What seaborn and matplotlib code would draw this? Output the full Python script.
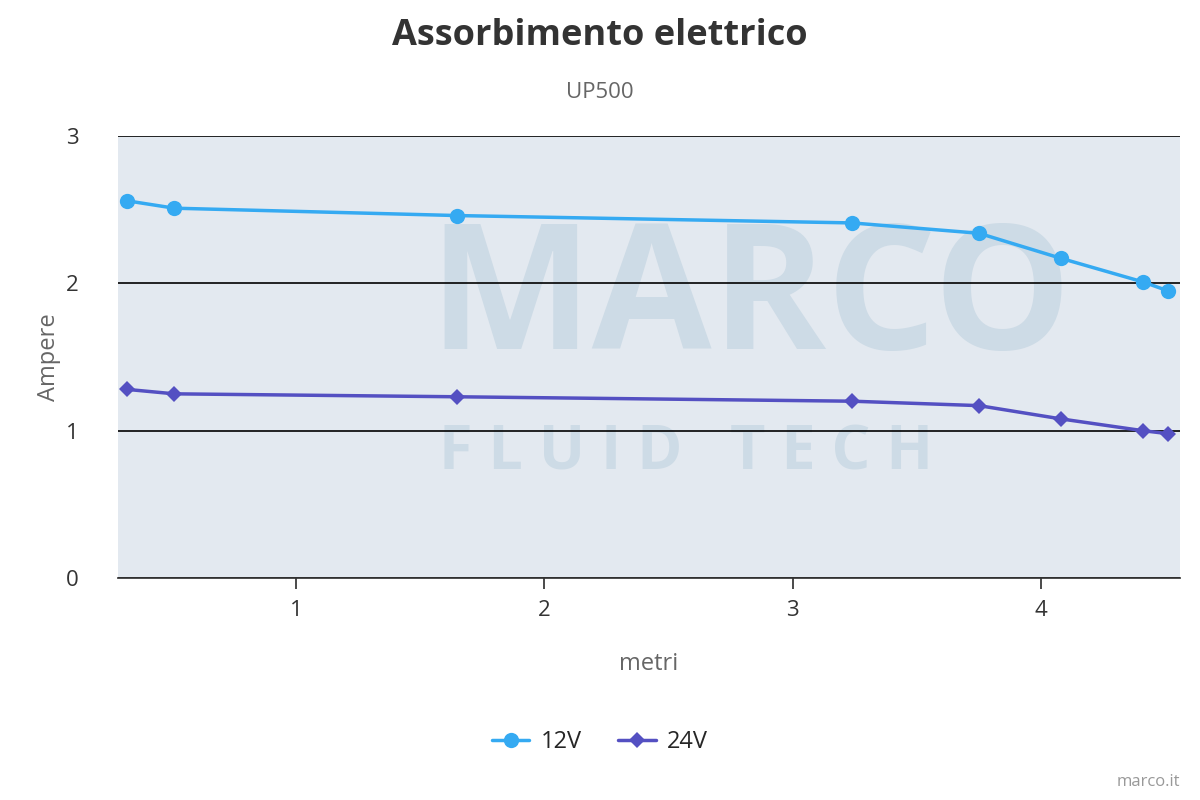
import matplotlib
matplotlib.use("Agg")
import matplotlib.pyplot as plt
import seaborn as sns
import pandas as pd

metri = [0.32, 0.51, 1.65, 3.24, 3.75, 4.08, 4.41, 4.51]
amp_12v = [2.56, 2.51, 2.46, 2.41, 2.34, 2.17, 2.01, 1.95]
amp_24v = [1.28, 1.25, 1.23, 1.20, 1.17, 1.08, 1.00, 0.98]

df = pd.concat([
    pd.DataFrame({"metri": metri, "Ampere": amp_12v, "serie": "12V"}),
    pd.DataFrame({"metri": metri, "Ampere": amp_24v, "serie": "24V"}),
])

sns.set_theme(style="white")
plt.rcParams['font.family'] = ['Open Sans', 'DejaVu Sans']
fig = plt.figure(figsize=(12, 8), dpi=100)
ax = fig.add_axes([118/1200, 1-578/800, (1180-118)/1200, (578-136)/800])
ax.set_facecolor("#e3e9f0")

sns.lineplot(data=df, x="metri", y="Ampere", hue="serie", style="serie",
             markers={"12V": "o", "24V": "D"}, dashes=False,
             palette={"12V": "#35aaf2", "24V": "#5450c2"},
             markersize=11, linewidth=2.5, ax=ax, legend=False)
for l, ms in zip(ax.lines, [11, 8]):
    l.set_markersize(ms)
    l.set_markeredgewidth(0)

ax.text(0.595, 0.62, "MARCO", transform=ax.transAxes, ha="center", va="center",
        fontsize=125, fontweight="bold", color="#cddbe6", zorder=0)
ax.text(0.535, 0.28, "F L U I D   T E C H", transform=ax.transAxes, ha="center", va="center",
        fontsize=44, fontweight="bold", color="#cddbe6", zorder=0)

ax.set_xlim(0.283, 4.56)
ax.set_ylim(0, 3)
ax.set_xticks([1, 2, 3, 4])
ax.set_yticks([0, 1, 2, 3])
ax.grid(axis="y", color="black", linewidth=1.2)
ax.set_axisbelow(True)
for s in ["top", "right", "left"]:
    ax.spines[s].set_visible(False)
ax.spines["bottom"].set_color("#333333")
ax.tick_params(axis="x", length=8, color="#333333", labelsize=16, labelcolor="#333333", pad=8, bottom=True)
ax.tick_params(axis="y", length=0, labelsize=16, labelcolor="#333333", pad=28)
ax.set_xlabel("metri", fontsize=17, color="#666666", labelpad=22)
ax.set_ylabel("Ampere", fontsize=17, color="#666666", labelpad=4)

fig.text(0.5, 1-36/800, "Assorbimento elettrico", ha="center", va="center",
         fontsize=26, fontweight="bold", color="#333333")
fig.text(0.5, 1-92/800, "UP500", ha="center", va="center", fontsize=16, color="#666666")
fig.text(1180/1200, 1-782/800, "marco.it", ha="right", va="center", fontsize=12, color="#999999")

from matplotlib.lines import Line2D
handles = [Line2D([], [], color="#35aaf2", marker="o", markersize=11, lw=2.5, markeredgewidth=0),
           Line2D([], [], color="#5450c2", marker="D", markersize=8, lw=2.5, markeredgewidth=0)]
fig.legend(handles, ["12V", "24V"], loc="center", bbox_to_anchor=(0.5, 1-742/800), ncol=2,
           frameon=False, fontsize=17, handlelength=1.6, handletextpad=0.5, columnspacing=1.5)

fig.savefig("out.png", dpi=100)
